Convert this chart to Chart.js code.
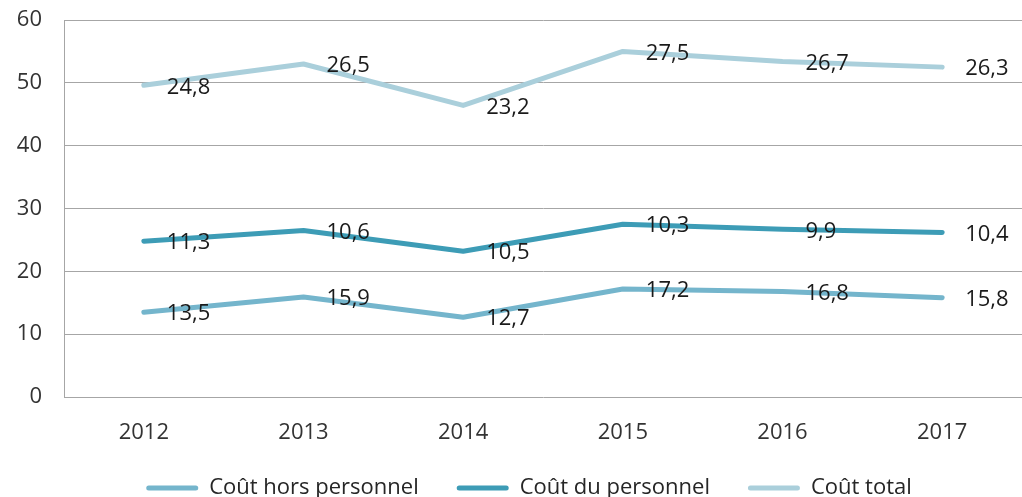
<!DOCTYPE html>
<html lang="fr">
<head>
    <meta charset="UTF-8">
    <title>Coûts 2012-2017</title>
    <script src="https://cdn.jsdelivr.net/npm/chart.js"></script>
    <style>
        body {
            margin: 0;
            padding: 0;
            background: #fff;
            overflow: hidden;
        }
        .chart-container {
            position: relative;
            width: 1022px;
            height: 497px;
        }
    </style>
</head>
<body>

    <div class="chart-container">
        <canvas id="coutChart"></canvas>
    </div>

    <script>
        const years = ['2012', '2013', '2014', '2015', '2016', '2017'];
        const horsPersonnel = [13.5, 15.9, 12.7, 17.2, 16.8, 15.8];
        const duPersonnel = [11.3, 10.6, 10.5, 10.3, 9.9, 10.4];
        const coutTotal = [24.8, 26.5, 23.2, 27.5, 26.7, 26.3];
        const yTicks = [0, 10, 20, 30, 40, 50, 60];

        const FONT = "'Open Sans', sans-serif";
        const FONT_SIZE = 22;

        // value labels to the right of each point, like the Excel original
        const valueLabels = {
            id: 'valueLabels',
            afterLayout(chart) {
                // let the year labels spill below the (squeezed) x axis box
                chart.scales.x.bottom = chart.height;
                // legend sits a bit right of centre in the original
                chart.legend.left += 18;
                chart.legend.right += 18;
            },
            afterDatasetsDraw(chart) {
                const ctx = chart.ctx;
                ctx.save();
                ctx.font = FONT_SIZE + 'px ' + FONT;
                ctx.fillStyle = '#1a1a1a';
                ctx.textAlign = 'left';
                ctx.textBaseline = 'middle';
                chart.data.datasets.forEach((ds, i) => {
                    const meta = chart.getDatasetMeta(i);
                    meta.data.forEach((pt, j) => {
                        const txt = ds.data[j].toFixed(1).replace('.', ',');
                        ctx.fillText(txt, pt.x + 23, pt.y + 2);
                    });
                });
                ctx.restore();
            }
        };

        const ctx = document.getElementById('coutChart').getContext('2d');

        const coutChart = new Chart(ctx, {
            type: 'line',
            data: {
                labels: years,
                datasets: [
                    {
                        label: 'Coût hors personnel',
                        data: horsPersonnel,
                        borderColor: '#74b5cc',
                        backgroundColor: '#74b5cc',
                    },
                    {
                        label: 'Coût du personnel',
                        data: duPersonnel,
                        borderColor: '#3d9cb6',
                        backgroundColor: '#3d9cb6',
                    },
                    {
                        label: 'Coût total',
                        data: coutTotal,
                        borderColor: '#aacfdb',
                        backgroundColor: '#aacfdb',
                    }
                ]
            },
            options: {
                responsive: true,
                maintainAspectRatio: false,
                animation: false,
                elements: {
                    line: {
                        borderWidth: 5,
                        tension: 0,
                        fill: false,
                        borderCapStyle: 'round',
                        borderJoinStyle: 'round'
                    },
                    point: { radius: 0, hoverRadius: 0 }
                },
                layout: {
                    padding: { top: 0, right: 0, bottom: -12, left: 0 }
                },
                scales: {
                    x: {
                        offset: true,
                        grid: { display: false, drawTicks: false },
                        border: { display: false },
                        ticks: {
                            padding: 23,
                            color: '#333',
                            font: { family: FONT, size: FONT_SIZE }
                        },
                        afterFit(scale) { scale.height = 42; }
                    },
                    y: {
                        stacked: true,
                        min: yTicks[0],
                        max: yTicks[yTicks.length - 1],
                        afterBuildTicks(scale) {
                            scale.ticks = yTicks.map(v => ({ value: v }));
                        },
                        grid: { color: '#a6a6a6', lineWidth: 1, drawTicks: false },
                        border: { display: true, color: '#a6a6a6', width: 1 },
                        ticks: {
                            padding: 22,
                            color: '#333',
                            font: { family: FONT, size: FONT_SIZE }
                        },
                        afterFit(scale) {
                            scale.width = 64;
                            scale.paddingTop = 20;
                            scale.paddingBottom = 0;
                        }
                    }
                },
                plugins: {
                    tooltip: { enabled: false },
                    legend: {
                        position: 'bottom',
                        labels: {
                            padding: 38,
                            boxWidth: 52,
                            boxHeight: 5,
                            useBorderRadius: true,
                            color: '#262626',
                            font: { family: FONT, size: FONT_SIZE },
                            generateLabels(chart) {
                                return chart.data.datasets.map((ds, i) => ({
                                    text: ds.label,
                                    fillStyle: ds.borderColor,
                                    strokeStyle: ds.borderColor,
                                    lineWidth: 0,
                                    borderRadius: 2.5,
                                    fontColor: '#262626',
                                    datasetIndex: i
                                }));
                            }
                        }
                    }
                }
            },
            plugins: [valueLabels]
        });
    </script>

</body>
</html>
